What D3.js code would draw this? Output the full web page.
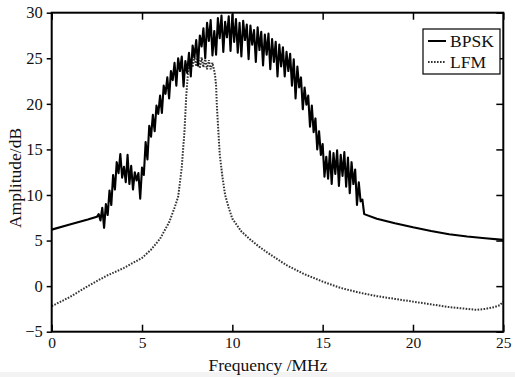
<!DOCTYPE html>
<html>
<head>
<meta charset="utf-8">
<script src="https://cdn.jsdelivr.net/npm/d3@7"></script>
<style>
    body { margin: 0; background: #fff; }
    text { font-family: "Liberation Serif", "Times New Roman", Times, serif; fill: #111; }
</style>
</head>
<body>
<div id="chart"></div>
<script>
// BPSK spectrum, smooth tails
const bpskLeftFreq = [0, 1, 2, 2.5];
const bpskLeftAmp = [6.2, 6.75, 7.3, 7.6];
// BPSK noisy part, 2.5 .. 17.3 MHz every 0.1 MHz
const bpskNoiseStart = 2.5;
const bpskNoiseStep = 0.1;
const bpskNoiseAmp = [
    7.6, 7.9, 7.2, 8.6, 6.4, 9.0, 7.8, 10.5, 8.9, 12.2,
    10.6, 13.6, 12.4, 14.5, 11.9, 13.1, 11.4, 14.4, 11.2, 13.2,
    10.6, 12.5, 11.6, 12.4, 9.6, 13.0, 12.2, 15.8, 13.9, 17.6,
    16.4, 18.8, 17.0, 19.8, 18.9, 20.9, 19.0, 22.0, 21.1, 22.9,
    20.6, 23.6, 22.6, 24.5, 22.0, 25.0, 23.6, 25.2, 21.9, 24.7,
    23.4, 25.6, 23.0, 26.4, 25.1, 27.0, 24.2, 27.5, 26.3, 28.3,
    25.0, 28.9, 26.9, 29.2, 25.3, 28.0, 25.4, 29.4, 27.2, 29.7,
    25.7, 29.0, 27.3, 29.6, 25.8, 29.8, 26.8, 29.3, 25.6, 28.9,
    25.2, 29.1, 27.0, 28.7, 24.9, 28.6, 26.5, 28.1, 24.6, 28.4,
    25.9, 27.9, 24.2, 27.6, 25.4, 27.7, 23.8, 27.1, 24.6, 26.8,
    23.0, 26.5, 24.1, 26.2, 23.0, 25.7, 23.6, 25.5, 22.0, 24.9,
    20.6, 24.1, 21.8, 22.9, 19.4, 21.8, 19.9, 20.9, 17.5, 19.8,
    16.9, 18.4, 15.0, 17.0, 14.4, 15.6, 12.0, 14.2, 11.8, 14.8,
    11.2, 14.6, 12.3, 14.9, 11.0, 14.4, 12.1, 14.7, 10.9, 14.1,
    10.2, 13.6, 11.2, 12.8, 8.9, 11.4, 9.3, 9.5, 7.9
];
const bpskRightFreq = [17.3, 18, 19, 20, 21, 22, 23, 24, 25];
const bpskRightAmp = [7.9, 7.4, 6.9, 6.45, 6.05, 5.7, 5.45, 5.25, 5.07];

// LFM spectrum
const lfmFreq = [
    0, 1, 2, 3, 4, 5, 5.5, 6, 6.5, 6.8, 7.0, 7.2, 7.35, 7.45, 7.55,
    7.6, 7.7, 7.8, 7.9, 8.0, 8.1, 8.2, 8.3, 8.4, 8.5, 8.6, 8.7, 8.8, 8.9, 9.0,
    9.05, 9.1, 9.15, 9.3, 9.45, 9.6, 9.8, 10, 10.5, 11, 11.5, 12, 13, 14, 15,
    16, 17, 18, 19, 20, 21, 22, 23, 23.5, 24, 24.5, 24.8, 25
];
const lfmAmp = [
    -2.2, -1.2, 0, 1.1, 2.0, 3.1, 4.0, 5.2, 7.0, 8.6, 9.8, 13, 17, 21, 23.5,
    24.2, 25.0, 24.0, 25.2, 24.1, 25.3, 23.9, 25.1, 24.0, 24.9, 23.8, 24.8, 23.8, 24.5, 23.6,
    23.0, 22.0, 19.5, 14.5, 12.0, 10.0, 8.6, 7.4, 6.0, 5.1, 4.3, 3.6, 2.3, 1.3, 0.5,
    -0.2, -0.7, -1.1, -1.4, -1.7, -2.0, -2.3, -2.5, -2.6, -2.5, -2.3, -2.1, -1.7
];

const xTicks = [0, 5, 10, 15, 20, 25];
const yTicks = [-5, 0, 5, 10, 15, 20, 25, 30];
const seriesNames = ["BPSK", "LFM"];

const width = 515;
const height = 377;
const plot = { left: 51.7, right: 503.3, top: 12.7, bottom: 331.7 };
const serif = "\"Liberation Serif\", \"Times New Roman\", Times, serif";

const x = d3.scaleLinear().domain([0, 25]).range([plot.left, plot.right]);
const y = d3.scaleLinear().domain([-5, 30]).range([plot.bottom, plot.top]);

// join the three BPSK pieces into one point list
const bpsk = [];
bpskLeftFreq.forEach((f, i) => bpsk.push([f, bpskLeftAmp[i]]));
bpskNoiseAmp.forEach((a, i) => bpsk.push([bpskNoiseStart + i * bpskNoiseStep, a]));
bpskRightFreq.forEach((f, i) => bpsk.push([f, bpskRightAmp[i]]));
const lfm = lfmFreq.map((f, i) => [f, lfmAmp[i]]);

const svg = d3.select("#chart")
    .append("svg")
    .attr("width", width)
    .attr("height", height);

svg.append("rect")
    .attr("width", width)
    .attr("height", height)
    .attr("fill", "#fff");

// faint grey strip along the bottom edge of the scan
svg.append("rect")
    .attr("y", 372)
    .attr("width", width)
    .attr("height", height - 372)
    .attr("fill", "#f3f3f3");

const line = d3.line()
    .x(d => x(d[0]))
    .y(d => y(d[1]));

svg.append("path")
    .datum(lfm)
    .attr("d", line)
    .attr("fill", "none")
    .attr("stroke", "#333")
    .attr("stroke-width", 2)
    .attr("stroke-dasharray", "1.6,1.4");

svg.append("path")
    .datum(bpsk)
    .attr("d", line)
    .attr("fill", "none")
    .attr("stroke", "#000")
    .attr("stroke-width", 2.1)
    .attr("stroke-linejoin", "round");

// axes: bottom/top/right ticks point in, left ticks point out
const tickLen = 7;
svg.append("g")
    .attr("transform", "translate(0," + plot.bottom + ")")
    .call(d3.axisBottom(x).tickValues(xTicks).tickSizeInner(-tickLen).tickSizeOuter(0).tickPadding(5))
    .call(g => g.attr("font-family", serif).selectAll("text").attr("font-size", 15.5));

svg.append("g")
    .attr("transform", "translate(0," + plot.top + ")")
    .call(d3.axisTop(x).tickValues(xTicks).tickSizeInner(-tickLen).tickSizeOuter(0).tickFormat(""));

svg.append("g")
    .attr("transform", "translate(" + plot.left + ",0)")
    .call(d3.axisLeft(y).tickValues(yTicks).tickSizeInner(5).tickSizeOuter(0).tickPadding(4))
    .call(g => g.attr("font-family", serif).selectAll("text").attr("font-size", 16.5));

svg.append("g")
    .attr("transform", "translate(" + plot.right + ",0)")
    .call(d3.axisRight(y).tickValues(yTicks).tickSizeInner(-tickLen).tickSizeOuter(0).tickFormat(""));

svg.selectAll(".domain").remove();
svg.selectAll(".tick line").attr("stroke", "#000").attr("stroke-width", 1.5);

svg.append("rect")
    .attr("x", plot.left)
    .attr("y", plot.top)
    .attr("width", plot.right - plot.left)
    .attr("height", plot.bottom - plot.top)
    .attr("fill", "none")
    .attr("stroke", "#000")
    .attr("stroke-width", 2);

// axis titles
svg.append("text")
    .attr("x", 268)
    .attr("y", 370.5)
    .attr("text-anchor", "middle")
    .attr("font-size", 17.5)
    .text("Frequency /MHz");

svg.append("text")
    .attr("transform", "translate(21," + 178 + ") rotate(-90)")
    .attr("text-anchor", "middle")
    .attr("font-size", 17.5)
    .text("Amplitude/dB");

// legend
const legend = svg.append("g").attr("transform", "translate(423,29)");
legend.append("rect")
    .attr("width", 77)
    .attr("height", 45)
    .attr("fill", "#fff")
    .attr("stroke", "#000")
    .attr("stroke-width", 1.2);

seriesNames.forEach((name, i) => {
    const ly = 12 + i * 21;
    legend.append("line")
        .attr("x1", 5).attr("x2", 23)
        .attr("y1", ly).attr("y2", ly)
        .attr("stroke", i === 0 ? "#000" : "#333")
        .attr("stroke-width", 2)
        .attr("stroke-dasharray", i === 0 ? null : "1.6,1.4");
    legend.append("text")
        .attr("x", 27)
        .attr("y", ly + 6)
        .attr("font-size", 17.5)
        .text(name);
});
</script>
</body>
</html>
